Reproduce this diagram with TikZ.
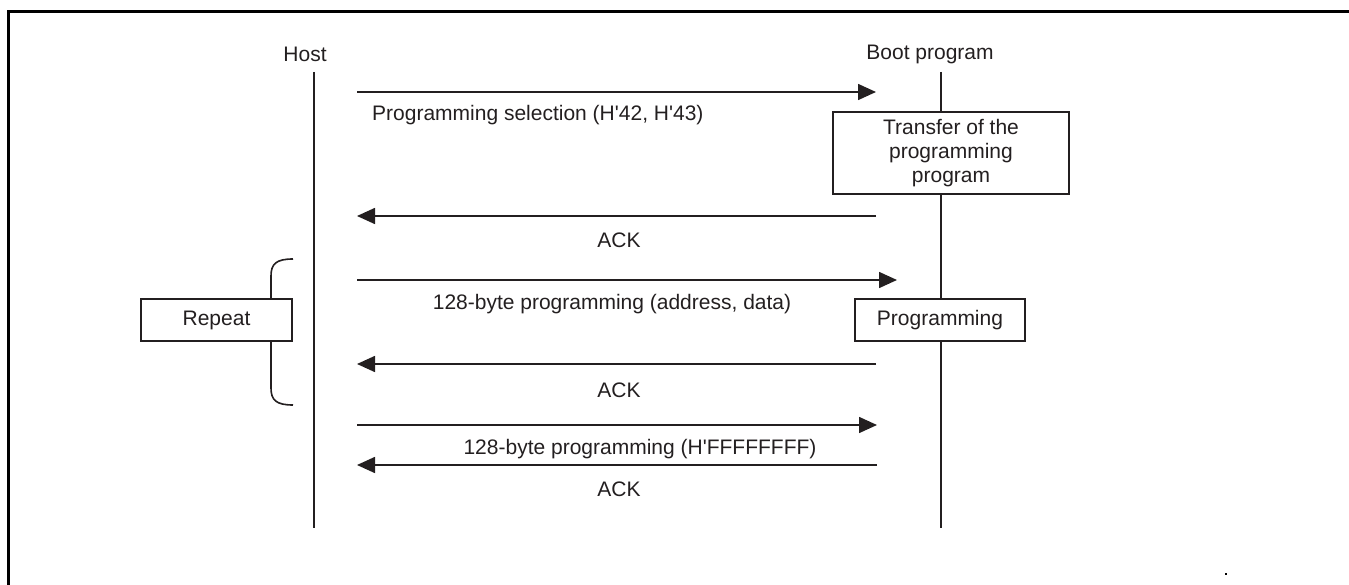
\documentclass[tikz,border=0pt]{standalone}
\usepackage{fontspec}
\setmainfont{Liberation Sans}
\usetikzlibrary{arrows.meta}
\definecolor{ink}{HTML}{231F20}
\newcommand{\sq}{\textquotesingle}
\tikzset{
  lbl/.style={font=\fontsize{21}{24}\selectfont, text=ink, inner sep=0pt},
  lifeline/.style={draw=ink, line width=1.6pt},
  msg/.style={draw=ink, line width=1.6pt, -{Triangle[length=18pt,width=16pt]}},
  procbox/.style={draw=ink, line width=1.6pt, fill=white, inner sep=0pt, align=center,
     font=\fontsize{21}{24}\selectfont, text=ink},
  frameline/.style={draw=black, line width=3pt}
}
\begin{document}
\begin{tikzpicture}[x=1pt,y=-1pt]
\useasboundingbox (0,0) rectangle (1349,585);
% frame
\draw[frameline] (8,585) -- (8,12) -- (1349,12);
% actors
\node[lbl] (host) at (305,54) {Host};
\node[lbl] (boot) at (930,54) {Boot program};
\coordinate (h0) at (314,72);
\coordinate (h1) at (314,528);
\coordinate (b0) at (941,72);
\coordinate (b1) at (941,528);
\draw[lifeline] (h0) -- (h1);
\draw[lifeline] (b0) -- (b1);
% boxes
\node[procbox, minimum width=236pt, minimum height=82pt] (transfer) at (951,153)
  {Transfer of the\\programming\\program};
\node[procbox, minimum width=170pt, minimum height=42pt] (prog) at (940,320) {Programming};
% brace
\coordinate (br0) at (293,259);
\coordinate (br1) at (293,405);
\draw[lifeline] (br0) .. controls (276,259) and (271,264) .. (271,276) -- (271,388)
  .. controls (271,400) and (276,405) .. (br1);
\node[procbox, minimum width=151pt, minimum height=42pt] (repeat) at (216.5,320) {Repeat};
% messages
\coordinate (m1s) at (357,92);  \coordinate (m1e) at (876,92);
\coordinate (m2s) at (876,216); \coordinate (m2e) at (357,216);
\coordinate (m3s) at (357,280); \coordinate (m3e) at (897,280);
\coordinate (m4s) at (876,364); \coordinate (m4e) at (357,364);
\coordinate (m5s) at (357,425); \coordinate (m5e) at (877,425);
\coordinate (m6s) at (877,465); \coordinate (m6e) at (357,465);
\draw[msg] (m1s) -- (m1e);
\draw[msg] (m2s) -- (m2e);
\draw[msg] (m3s) -- (m3e);
\draw[msg] (m4s) -- (m4e);
\draw[msg] (m5s) -- (m5e);
\draw[msg] (m6s) -- (m6e);
\node[lbl, anchor=west] (l1) at (372,115) {Programming selection (H\sq 42, H\sq 43)};
\node[lbl] (l2) at (619,240) {ACK};
\node[lbl] (l3) at (612,304) {128-byte programming (address, data)};
\node[lbl] (l4) at (619,390) {ACK};
\node[lbl] (l5) at (640,449) {128-byte programming (H\sq FFFFFFFF)};
\node[lbl] (l6) at (619,489) {ACK};
% stray dot
\fill[black] (1225,573) rectangle (1227,575);
\end{tikzpicture}
\end{document}
